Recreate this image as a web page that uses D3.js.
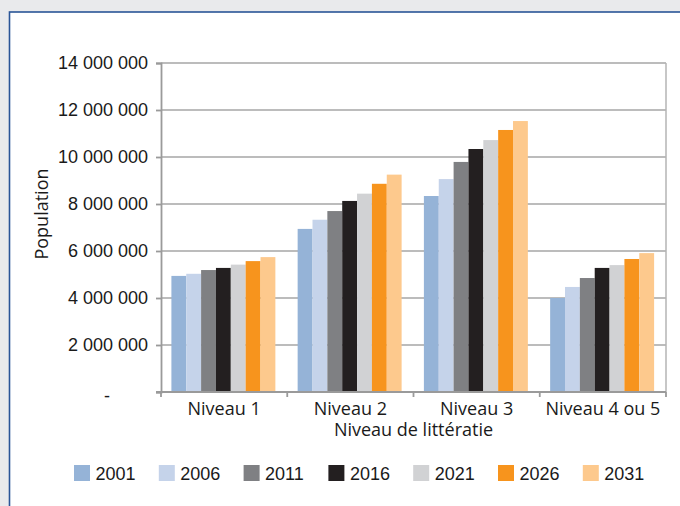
<!DOCTYPE html>
<html>
<head>
<meta charset="utf-8">
<script src="https://cdn.jsdelivr.net/npm/d3@7"></script>
<style>
  body { margin: 0; background: #e9eaec; }
  svg { display: block; }
</style>
</head>
<body>
<script>
// literacy level population chart

// data
var categories = ["Niveau 1", "Niveau 2", "Niveau 3", "Niveau 4 ou 5"];
var years = ["2001", "2006", "2011", "2016", "2021", "2026", "2031"];
var colors = ["#95b3d7", "#c5d3ea", "#7f8083", "#231f20", "#d1d2d4", "#f7941d", "#fdc98d"];
// one array per category, values for each year
var niveau1 = [4940000, 5030000, 5190000, 5280000, 5420000, 5570000, 5740000];
var niveau2 = [6940000, 7330000, 7700000, 8130000, 8440000, 8860000, 9250000];
var niveau3 = [8340000, 9060000, 9790000, 10340000, 10720000, 11150000, 11530000];
var niveau45 = [4000000, 4470000, 4850000, 5280000, 5400000, 5660000, 5910000];
var yTicks = [0, 2000000, 4000000, 6000000, 8000000, 10000000, 12000000, 14000000];

var values = [niveau1, niveau2, niveau3, niveau45];

var W = 680, H = 506;
var plot = { left: 161, right: 666, top: 63, bottom: 392 };
var labelFont = "'Open Sans', Lato, sans-serif";
var numFont = "'Liberation Sans', Arial, sans-serif";

var svg = d3.select("body").append("svg")
  .attr("width", W)
  .attr("height", H);

// frame of the figure
svg.append("rect")
  .attr("x", 9.5).attr("y", 12)
  .attr("width", W).attr("height", H)
  .attr("fill", "white")
  .attr("stroke", "#2a5597")
  .attr("stroke-width", 1.6);

var x0 = d3.scaleBand()
  .domain(categories)
  .range([plot.left, plot.right]);

// excel style gap: 150% of a bar width
var barW = x0.bandwidth() / (years.length + 1.5);
var x1 = d3.scaleBand()
  .domain(years)
  .range([barW * 0.7, x0.bandwidth() - barW * 0.8]);

var y = d3.scaleLinear()
  .domain([0, 14000000])
  .range([plot.bottom, plot.top]);

var fmt = function (d) {
  if (d === 0) return "-";
  return d3.format(",")(d).replace(/,/g, " ");
};

// gridlines
svg.append("g")
  .selectAll("line")
  .data(yTicks.filter(function (d) { return d > 0; }))
  .enter().append("line")
  .attr("x1", plot.left).attr("x2", plot.right)
  .attr("y1", function (d) { return y(d); })
  .attr("y2", function (d) { return y(d); })
  .attr("stroke", "#a6a6a6")
  .attr("stroke-width", 1.5);

// right border of plot
svg.append("line")
  .attr("x1", plot.right).attr("x2", plot.right)
  .attr("y1", plot.top).attr("y2", plot.bottom)
  .attr("stroke", "#b5b5b5")
  .attr("stroke-width", 1.5);

// bars
var groups = svg.append("g")
  .selectAll("g")
  .data(categories)
  .enter().append("g")
  .attr("transform", function (d) { return "translate(" + x0(d) + ",0)"; });

groups.selectAll("rect")
  .data(function (d, i) {
    return years.map(function (yr, j) { return { year: yr, value: values[i][j], color: colors[j] }; });
  })
  .enter().append("rect")
  .attr("x", function (d) { return x1(d.year); })
  .attr("width", x1.bandwidth())
  .attr("y", function (d) { return y(d.value); })
  .attr("height", function (d) { return y(0) - y(d.value); })
  .attr("fill", function (d) { return d.color; });

// y axis
var yAxis = svg.append("g")
  .attr("transform", "translate(" + plot.left + ",0)")
  .call(d3.axisLeft(y).tickValues(yTicks).tickSize(5).tickPadding(8).tickFormat(fmt));
yAxis.selectAll("path, line").attr("stroke", "#9a9a9a").attr("stroke-width", 1.8);
yAxis.selectAll("text")
  .attr("font-family", numFont)
  .attr("font-size", 18)
  .attr("fill", "#1a1a1a");
yAxis.selectAll("text").filter(function (d) { return d === 0; })
  .attr("x", -51).attr("dy", "0.5em");

// x axis
var xAxis = svg.append("g")
  .attr("transform", "translate(0," + plot.bottom + ")")
  .call(d3.axisBottom(x0).tickSize(0).tickPadding(10));
xAxis.select(".domain").attr("stroke", "#9a9a9a").attr("stroke-width", 1.8)
  .attr("d", "M" + (plot.left - 5) + ",0H" + plot.right);
xAxis.selectAll("text")
  .attr("font-family", labelFont)
  .attr("font-size", 18)
  .attr("fill", "#1a1a1a");

// category boundary ticks
svg.append("g")
  .selectAll("line")
  .data(categories.concat(["end"]))
  .enter().append("line")
  .attr("x1", function (d, i) { return plot.left + i * x0.step(); })
  .attr("x2", function (d, i) { return plot.left + i * x0.step(); })
  .attr("y1", plot.bottom).attr("y2", plot.bottom + 5)
  .attr("stroke", "#9a9a9a")
  .attr("stroke-width", 1.8);

// axis titles
svg.append("text")
  .attr("x", (plot.left + plot.right) / 2)
  .attr("y", 436)
  .attr("text-anchor", "middle")
  .attr("font-family", labelFont)
  .attr("font-size", 18)
  .attr("fill", "#1a1a1a")
  .text("Niveau de littératie");

svg.append("text")
  .attr("transform", "translate(48,214) rotate(-90)")
  .attr("text-anchor", "middle")
  .attr("font-family", labelFont)
  .attr("font-size", 18)
  .attr("fill", "#1a1a1a")
  .text("Population");

// legend
var legend = svg.append("g")
  .selectAll("g")
  .data(years)
  .enter().append("g")
  .attr("transform", function (d, i) { return "translate(" + (74 + i * 84.8) + ",465)"; });

legend.append("rect")
  .attr("width", 16)
  .attr("height", 16)
  .attr("fill", function (d, i) { return colors[i]; });

legend.append("text")
  .attr("x", 21.5)
  .attr("y", 15)
  .attr("font-family", numFont)
  .attr("font-size", 18)
  .attr("fill", "#1a1a1a")
  .text(function (d) { return d; });
</script>
</body>
</html>
